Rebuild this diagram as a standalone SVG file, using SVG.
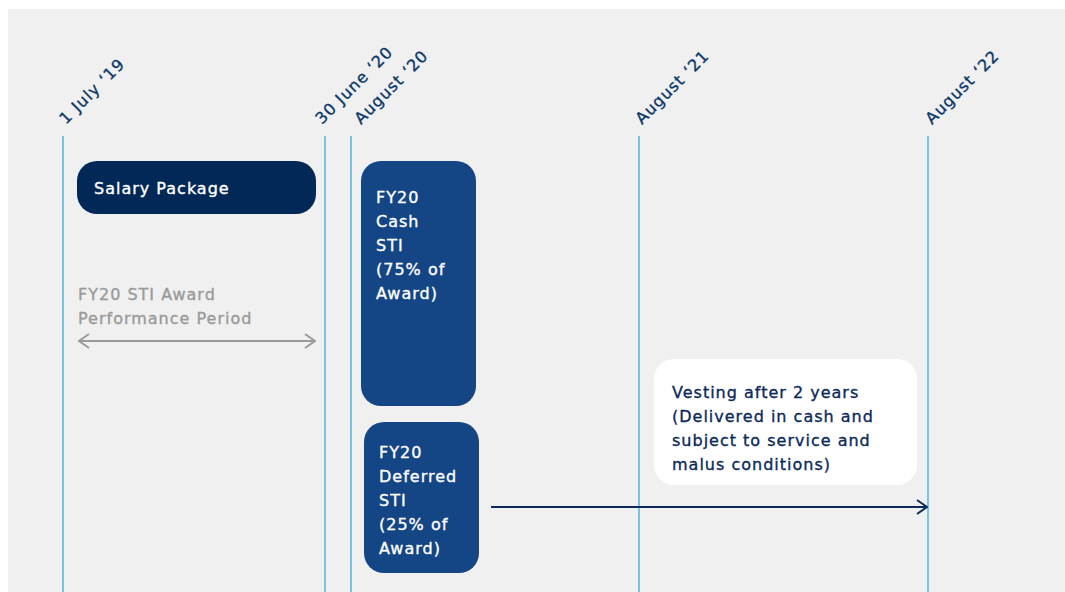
<svg xmlns="http://www.w3.org/2000/svg" width="1065" height="592" viewBox="0 0 1065 592">
<style>
.t{font-family:"DejaVu Sans","Noto Sans",sans-serif;font-size:16px;letter-spacing:1px;stroke-width:0.35px}
.date{fill:#0b3868;stroke:#0b3868}
.w{fill:#ffffff;stroke:#ffffff}
.n{fill:#0b2a5a;stroke:#0b2a5a}
.g{fill:#9a9a9a;stroke:#9a9a9a}
.vl{stroke:#2aa7df;stroke-width:1.2}
</style>
<defs>
<marker id="ah" viewBox="0 0 12 16" refX="11" refY="8" markerWidth="12" markerHeight="16" markerUnits="userSpaceOnUse" orient="auto-start-reverse">
<path d="M1,1 L11,8 L1,15" fill="none" stroke="context-stroke" stroke-width="2"/>
</marker>
</defs>
<rect x="0" y="0" width="1065" height="592" fill="#ffffff"/>
<rect x="8" y="9" width="1057" height="583" fill="#f0f0f0"/>
<g id="timeline">
<line class="vl" x1="63" y1="136" x2="63" y2="592"/>
<line class="vl" x1="325" y1="136" x2="325" y2="592"/>
<line class="vl" x1="351" y1="136" x2="351" y2="592"/>
<line class="vl" x1="639" y1="136" x2="639" y2="592"/>
<line class="vl" x1="928" y1="136" x2="928" y2="592"/>
<text class="t date" transform="translate(66,125) rotate(-45)">1 July ‘19</text>
<text class="t date" transform="translate(322,125) rotate(-45)">30 June ‘20</text>
<text class="t date" transform="translate(361,125) rotate(-45)">August ‘20</text>
<text class="t date" transform="translate(642,125) rotate(-45)">August ‘21</text>
<text class="t date" transform="translate(932,125) rotate(-45)">August ‘22</text>
</g>
<g id="salary">
<rect x="77" y="161" width="239" height="53" rx="20" fill="#012857"/>
<text class="t w" x="94" y="194">Salary Package</text>
</g>
<g id="perf">
<text class="t g" x="78" y="300">FY20 STI Award</text>
<text class="t g" x="78" y="324">Performance Period</text>
</g>
<g id="cash">
<rect x="361" y="161" width="115" height="245" rx="20" fill="#144584"/>
<text class="t w" x="376" y="203">FY20</text>
<text class="t w" x="376" y="227">Cash</text>
<text class="t w" x="376" y="251">STI</text>
<text class="t w" x="376" y="275">(75% of</text>
<text class="t w" x="376" y="299">Award)</text>
</g>
<g id="deferred">
<rect x="364" y="422" width="115" height="151" rx="20" fill="#144584"/>
<text class="t w" x="379" y="458">FY20</text>
<text class="t w" x="379" y="482">Deferred</text>
<text class="t w" x="379" y="506">STI</text>
<text class="t w" x="379" y="530">(25% of</text>
<text class="t w" x="379" y="554">Award)</text>
</g>
<g id="vesting">
<rect x="654" y="359" width="263" height="126" rx="20" fill="#ffffff"/>
<text class="t n" x="672" y="398">Vesting after 2 years</text>
<text class="t n" x="672" y="422">(Delivered in cash and</text>
<text class="t n" x="672" y="446">subject to service and</text>
<text class="t n" x="672" y="470">malus conditions)</text>
</g>
<g id="connectors">
<line x1="79" y1="341" x2="315" y2="341" stroke="#9a9a9a" stroke-width="2" marker-start="url(#ah)" marker-end="url(#ah)"/>
<line x1="491" y1="507" x2="927" y2="507" stroke="#0b2a5a" stroke-width="2" marker-end="url(#ah)"/>
</g>
</svg>
